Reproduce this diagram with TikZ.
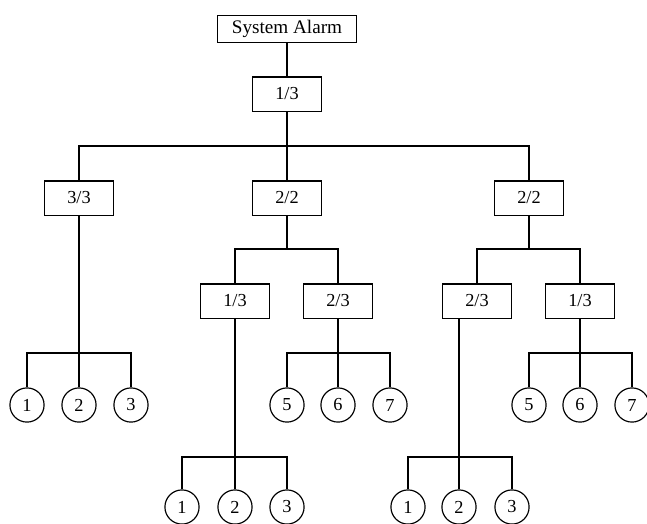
\documentclass[tikz,border=0pt]{standalone}
\usepackage{fontspec}
\setmainfont{Liberation Serif}
\usetikzlibrary{positioning}

\begin{document}
\begin{tikzpicture}[
  x=0.6pt,y=-0.6pt,
  every node/.style={font=\fontsize{11}{13}\selectfont},
  wire/.style={line width=0.7pt},
  gate/.style={draw,line width=0.7pt,minimum width=41.5pt,minimum height=20.5pt,inner sep=0pt},
  alarmbox/.style={gate,minimum width=83.5pt,minimum height=16.5pt,font=\fontsize{11.5}{13}\selectfont},
  leaf/.style={draw,circle,line width=0.7pt,minimum size=20.5pt,inner sep=0pt},
]
  \useasboundingbox (0,0) rectangle (647,523);

  % voting gates
  \node[alarmbox] (alarm) at (287,29)  {System Alarm};
  \node[gate]     (g0)    at (287,94)  {1/3};
  \node[gate]     (g1)    at (79,198)  {3/3};
  \node[gate]     (g2)    at (287,198) {2/2};
  \node[gate]     (g3)    at (529,198) {2/2};
  \node[gate]     (g21)   at (235,301) {1/3};
  \node[gate]     (g22)   at (338,301) {2/3};
  \node[gate]     (g31)   at (477,301) {2/3};
  \node[gate]     (g32)   at (580,301) {1/3};

  % sensors
  \node[leaf] (a1) at (27,405)  {1};
  \node[leaf] (a2) at (79,405)  {2};
  \node[leaf] (a3) at (131,405) {3};
  \node[leaf] (b1) at (182,507) {1};
  \node[leaf] (b2) at (235,507) {2};
  \node[leaf] (b3) at (287,507) {3};
  \node[leaf] (d1) at (287,405) {5};
  \node[leaf] (d2) at (338,405) {6};
  \node[leaf] (d3) at (390,405) {7};
  \node[leaf] (c1) at (408,507) {1};
  \node[leaf] (c2) at (459,507) {2};
  \node[leaf] (c3) at (512,507) {3};
  \node[leaf] (e1) at (529,405) {5};
  \node[leaf] (e2) at (580,405) {6};
  \node[leaf] (e3) at (632,405) {7};

  % bus junctions
  \coordinate (j0) at (287,146);
  \coordinate (j2) at (287,249);
  \coordinate (j3) at (529,249);
  \coordinate (ka) at (79,353);
  \coordinate (kb) at (235,457);
  \coordinate (kd) at (338,353);
  \coordinate (kc) at (459,457);
  \coordinate (ke) at (580,353);

  \draw[wire] (alarm) -- (g0);
  \draw[wire] (g0) -- (j0);
  \draw[wire] (j0) -| (g1);
  \draw[wire] (j0) -- (g2);
  \draw[wire] (j0) -| (g3);
  \draw[wire] (g2) -- (j2);
  \draw[wire] (j2) -| (g21);
  \draw[wire] (j2) -| (g22);
  \draw[wire] (g3) -- (j3);
  \draw[wire] (j3) -| (g31);
  \draw[wire] (j3) -| (g32);

  \draw[wire] (g1) -- (a2);
  \draw[wire] (ka) -| (a1);
  \draw[wire] (ka) -| (a3);
  \draw[wire] (g21) -- (b2);
  \draw[wire] (kb) -| (b1);
  \draw[wire] (kb) -| (b3);
  \draw[wire] (g22) -- (d2);
  \draw[wire] (kd) -| (d1);
  \draw[wire] (kd) -| (d3);
  \draw[wire] (g31.south -| c2) -- (c2);
  \draw[wire] (kc) -| (c1);
  \draw[wire] (kc) -| (c3);
  \draw[wire] (g32) -- (e2);
  \draw[wire] (ke) -| (e1);
  \draw[wire] (ke) -| (e3);
\end{tikzpicture}
\end{document}
